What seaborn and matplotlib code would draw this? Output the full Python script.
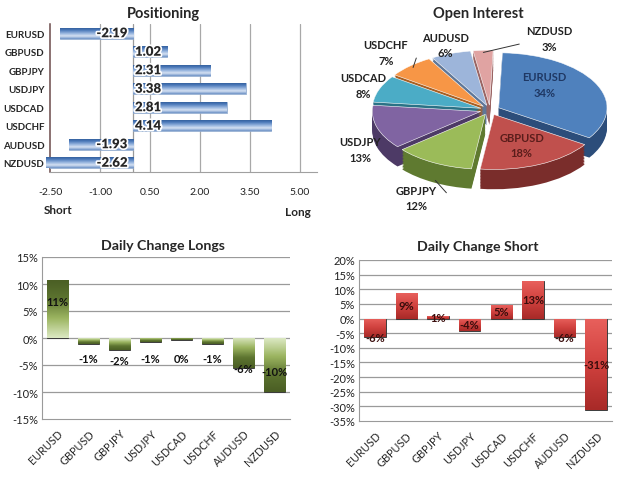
import numpy as np
import pandas as pd
import matplotlib
matplotlib.use('Agg')
import matplotlib.pyplot as plt
import matplotlib.patheffects as pe
from matplotlib.colors import LinearSegmentedColormap
import seaborn as sns

pairs = ['EURUSD', 'GBPUSD', 'GBPJPY', 'USDJPY', 'USDCAD', 'USDCHF', 'AUDUSD', 'NZDUSD']
positioning = [-2.19, 1.02, 2.31, 3.38, 2.81, 4.14, -1.93, -2.62]
open_interest = [34, 18, 12, 13, 8, 7, 6, 3]
longs_change = [10.8, -1.1, -2.2, -0.8, -0.4, -1.1, -5.6, -10.0]
shorts_change = [-6.4, 8.6, 0.7, -4.4, 4.6, 12.7, -6.4, -31.3]

sns.set_style('white')
plt.rcParams['font.family'] = ['Lato', 'DejaVu Sans']

W, H = 625, 485
fig = plt.figure(figsize=(W / 100, H / 100), dpi=100)
fig.patch.set_facecolor('white')


def box(x0, y0, x1, y1):
    # pixel box (top-left origin) -> figure fraction rect
    return [x0 / W, 1 - y1 / H, (x1 - x0) / W, (y1 - y0) / H]


def ftext(x, y, s, **kw):
    fig.text(x / W, 1 - y / H, s, ha='center', va='center', **kw)


def shade(ax, patch, cmap, axis='y', flip=False):
    x0, y0 = patch.get_x(), patch.get_y()
    w, h = patch.get_width(), patch.get_height()
    xs = sorted([x0, x0 + w])
    ys = sorted([y0, y0 + h])
    g = np.linspace(0, 1, 64)
    if flip:
        g = g[::-1]
    arr = g[:, None] if axis == 'y' else g[None, :]
    im = ax.imshow(arr, cmap=cmap, extent=[xs[0], xs[1], ys[0], ys[1]],
                   origin='lower', aspect='auto', interpolation='bilinear',
                   zorder=patch.get_zorder())
    im.set_clip_path(patch)
    patch.set_facecolor('none')


glow = [pe.withStroke(linewidth=2.4, foreground='white')]

# ---------------- Positioning ----------------
ax1 = fig.add_axes(box(50, 25, 316.7, 173))
df_pos = pd.DataFrame({'pair': pairs, 'value': positioning})
sns.barplot(data=df_pos, y='pair', x='value', orient='h', ax=ax1, width=0.62,
            color='#4f81bd', edgecolor='#8ea9cf', linewidth=0.6, zorder=3)
blue = LinearSegmentedColormap.from_list('blue', ['#2b5694', '#4a78b8', '#8eaedb', '#d6e2f3', '#6d92c6'])
for p in ax1.patches:
    shade(ax1, p, blue, axis='y')
ax1.set_xlim(-2.5, 5.5)
ax1.set_ylim(7.5, -0.5)
ticks = np.arange(-2.5, 5.01, 1.5)
ax1.set_xticks(ticks)
ax1.set_xticklabels([f'{t:.2f}' for t in ticks], fontsize=7.5, color='#222222')
ax1.tick_params(axis='x', length=0, pad=11)
ax1.tick_params(axis='y', length=0, pad=4)
for lab in ax1.get_yticklabels():
    lab.set_fontsize(7)
    lab.set_fontweight('bold')
ax1.set_xlabel('')
ax1.set_ylabel('')
for t in ticks[1:]:
    ax1.axvline(t, color='#a8a8a8', lw=0.9, zorder=1)
ax1.axvline(0, color='#9a9a9a', lw=0.9, zorder=2)
for s in ['top', 'right']:
    ax1.spines[s].set_visible(False)
ax1.spines['left'].set_color('#6b4a4a')
ax1.spines['left'].set_linewidth(1.1)
ax1.spines['bottom'].set_color('#a0a0a0')
for i, v in enumerate(positioning):
    if v < 0:
        ax1.text(-0.17, i, f'{v:.2f}', ha='right', va='center', fontsize=9.5,
                 fontweight='heavy', zorder=5, path_effects=glow)
    else:
        ax1.text(0.05, i, f'{v:.2f}', ha='left', va='center', fontsize=9.5,
                 fontweight='heavy', zorder=5, path_effects=glow)
ftext(163, 14, 'Positioning', fontsize=10.5, fontweight='bold')
ftext(58, 210, 'Short', fontsize=8.5, fontweight='bold')
ftext(298, 212, 'Long', fontsize=8.5, fontweight='bold')

# ---------------- Open Interest ----------------
ax2 = fig.add_axes(box(360, 22, 620, 205))
pie_colors = ['#4f81bd', '#c0504d', '#9bbb59', '#8064a2', '#4bacc6', '#f79646', '#9db5da', '#e0a3a2']
side_colors = ['#2c4d7a', '#7a2d2b', '#5f7a30', '#4d3a66', '#2a7286', '#a85f22', '#5f7798', '#9a6463']
explode = [0.09] * len(pairs)
depth = 0.36
for d in np.linspace(depth, 0.01, 14):
    ax2.pie(open_interest, colors=side_colors, startangle=88, counterclock=False,
            explode=explode, center=(0, -d), radius=1,
            wedgeprops=dict(linewidth=0))
wedges, _ = ax2.pie(open_interest, colors=pie_colors, startangle=88, counterclock=False,
                    explode=explode, center=(0, 0), radius=1,
                    wedgeprops=dict(linewidth=0.4, edgecolor='white'))
ax2.set_aspect('auto')
ax2.set_xlim(-1.2, 1.2)
ax2.set_ylim(-1.71, 1.62)
ax2.axis('off')
# inside labels: text colour and nudge in data units
inside = {'EURUSD': ('#1f3864', -0.12, 0.14), 'GBPUSD': ('#5a1d1b', 0.0, 0.0)}
leader = ['GBPJPY', 'USDCHF', 'NZDUSD']
for w, name, val in zip(wedges, pairs, open_interest):
    ang = np.deg2rad((w.theta1 + w.theta2) / 2)
    c, s = np.cos(ang), np.sin(ang)
    label = f'{name}\n{val}%'
    if name in inside:
        col, nx, ny = inside[name]
        ax2.text(0.7 * c + nx, 0.7 * s + ny, label, ha='center', va='center',
                 fontsize=8, fontweight='bold', color=col, linespacing=1.5)
        continue
    r = 1.42 if name in leader else 1.25
    lx, ly = r * c, r * s - (depth if s < 0 else 0)
    if name == 'NZDUSD':
        lx, ly = 0.55, 1.3
    if name in leader:
        ex, ey = 1.05 * c, 1.05 * s - (depth if s < 0 else 0)
        tx = lx + (0.28 if lx < ex else -0.28)
        ty = ly + (0.1 if ly < ey else -0.1)
        ax2.plot([ex, tx], [ey, ty], color='#333333', lw=0.7, zorder=1)
    ax2.text(lx, ly, label, ha='center', va='center', fontsize=8,
             fontweight='bold', color='#222222', linespacing=1.5)
ftext(478, 14, 'Open Interest', fontsize=10.5, fontweight='bold')


# ---------------- Daily change charts ----------------
def change_chart(rect, values, ylo, yhi, cmap, title, tx, ty, mode):
    ax = fig.add_axes(rect)
    df = pd.DataFrame({'pair': pairs, 'value': values})
    sns.barplot(data=df, x='pair', y='value', ax=ax, width=0.68, color='#777777',
                edgecolor='#3a3a3a', linewidth=0.7, zorder=3)
    for p in ax.patches:
        if mode == 'long':
            shade(ax, p, cmap, axis='y', flip=p.get_height() < 0)
        else:
            shade(ax, p, cmap, axis='y', flip=True)
    ax.set_xlim(-0.5, len(pairs) - 0.5)
    ax.set_ylim(ylo, yhi)
    yt = np.arange(ylo, yhi + 0.1, 5)
    ax.set_yticks(yt)
    ax.set_yticklabels([f'{int(t)}%' for t in yt], fontsize=8, color='#222222')
    ax.set_xticks(range(len(pairs)))
    ax.set_xticklabels(pairs, rotation=45, ha='right', rotation_mode='anchor', fontsize=7.8)
    ax.tick_params(axis='both', length=0, pad=3)
    ax.tick_params(axis='x', pad=6)
    ax.set_xlabel('')
    ax.set_ylabel('')
    for t in yt[1:]:
        ax.axhline(t, color='#9a9a9a', lw=0.9, zorder=1)
    for s in ['top', 'right']:
        ax.spines[s].set_visible(False)
    ax.spines['left'].set_color('#9a9a9a')
    ax.spines['bottom'].set_color('#9a9a9a')
    for i, v in enumerate(values):
        txt = f'{round(v):d}%'
        if mode == 'long':
            if abs(v) > 8:
                y = v * 0.62
            elif v < 0:
                y = min(v, -1.8) - 2.0 if abs(v) < 4 else v
            else:
                y = v + 1.5
            ax.text(i, y, txt, ha='center', va='center', fontsize=8,
                    fontweight='bold', color='#111111', zorder=5)
        else:
            y = v if -10 < v < -5 else v / 2
            ax.text(i, y, txt, ha='center', va='center', fontsize=8,
                    fontweight='bold', color='#3a0d0c', zorder=5)
    ftext(tx, ty, title, fontsize=10.2, fontweight='bold')
    return ax


green = LinearSegmentedColormap.from_list('green', ['#dbe8c2', '#9cb561', '#5d7430', '#4a5e24'])
red = LinearSegmentedColormap.from_list('red', ['#e8605c', '#d0413e', '#a82a28'])
change_chart(box(42, 258, 290, 420), longs_change, -15, 15, green,
             'Daily Change Longs', 163, 246, 'long')
change_chart(box(359, 261, 612, 422), shorts_change, -35, 20, red,
             'Daily Change Short', 478, 247, 'short')

fig.savefig('out.png', dpi=100)
